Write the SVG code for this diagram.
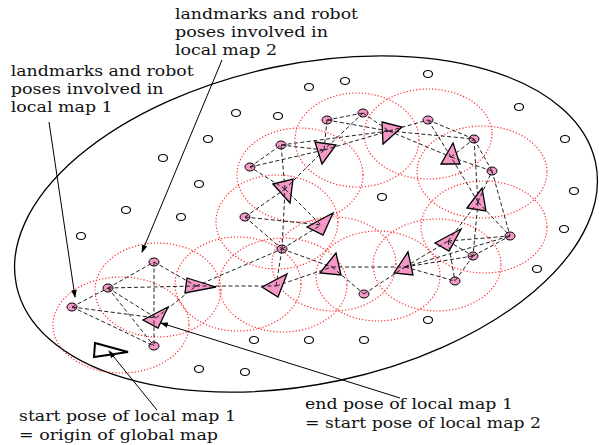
<svg xmlns="http://www.w3.org/2000/svg" width="599" height="445" viewBox="0 0 599 445">
<defs>
<marker id="ah" markerWidth="8" markerHeight="8" refX="7" refY="4" orient="auto" markerUnits="userSpaceOnUse"><path d="M0,1.2 L8,4 L0,6.8 z" fill="#000"/></marker>
</defs>
<style>
.lbl{font-family:"DejaVu Serif","Liberation Serif",serif;font-size:15px;fill:#111}
.open{fill:#fff;stroke:#000;stroke-width:1.2}
.lm{fill:#f598c8;stroke:#000;stroke-width:1}
.pose{fill:#f598c8;stroke:#000;stroke-width:1.3}
.start{fill:#fff;stroke:#000;stroke-width:2}
.rng{fill:none;stroke:#ff2a2a;stroke-width:1.2;stroke-dasharray:1.2 2}
.cn line{stroke:#222;stroke-width:1;stroke-dasharray:4 2.5}
.ann{stroke:#000;stroke-width:1;fill:none}
</style>
<rect width="599" height="445" fill="#fff"/>
<ellipse id="global-map" cx="306" cy="224" rx="296" ry="160" transform="rotate(-12 306 224)" fill="none" stroke="#000" stroke-width="1.3"/>
<g id="ranges">
<ellipse class="rng" cx="121" cy="325" rx="68" ry="48"/>
<ellipse class="rng" cx="158" cy="290" rx="63" ry="47"/>
<ellipse class="rng" cx="238" cy="284" rx="63" ry="47"/>
<ellipse class="rng" cx="283" cy="285" rx="64" ry="47"/>
<ellipse class="rng" cx="334" cy="264" rx="62" ry="47"/>
<ellipse class="rng" cx="378" cy="276" rx="62" ry="45"/>
<ellipse class="rng" cx="437" cy="265" rx="64" ry="46"/>
<ellipse class="rng" cx="484" cy="227" rx="63" ry="46"/>
<ellipse class="rng" cx="482" cy="172" rx="65" ry="46"/>
<ellipse class="rng" cx="428" cy="134" rx="64" ry="45"/>
<ellipse class="rng" cx="357" cy="140" rx="62" ry="47"/>
<ellipse class="rng" cx="300" cy="175" rx="63" ry="47"/>
<ellipse class="rng" cx="277" cy="222" rx="61" ry="47"/>
</g>
<g id="unobserved">
<ellipse class="open" cx="236" cy="113" rx="4.5" ry="3.5"/>
<ellipse class="open" cx="278" cy="116" rx="4.5" ry="3.5"/>
<ellipse class="open" cx="208" cy="139" rx="4.5" ry="3.5"/>
<ellipse class="open" cx="163" cy="158" rx="4.5" ry="3.5"/>
<ellipse class="open" cx="199" cy="184" rx="4.5" ry="3.5"/>
<ellipse class="open" cx="126" cy="210" rx="4.5" ry="3.5"/>
<ellipse class="open" cx="181" cy="217" rx="4.5" ry="3.5"/>
<ellipse class="open" cx="81" cy="236" rx="4.5" ry="3.5"/>
<ellipse class="open" cx="309" cy="87" rx="4.5" ry="3.5"/>
<ellipse class="open" cx="345" cy="81" rx="4.5" ry="3.5"/>
<ellipse class="open" cx="428" cy="74" rx="4.5" ry="3.5"/>
<ellipse class="open" cx="519" cy="107" rx="4.5" ry="3.5"/>
<ellipse class="open" cx="565" cy="139" rx="4.5" ry="3.5"/>
<ellipse class="open" cx="574" cy="191" rx="4.5" ry="3.5"/>
<ellipse class="open" cx="564" cy="229" rx="4.5" ry="3.5"/>
<ellipse class="open" cx="537" cy="269" rx="4.5" ry="3.5"/>
<ellipse class="open" cx="428" cy="320" rx="4.5" ry="3.5"/>
<ellipse class="open" cx="254" cy="340" rx="4.5" ry="3.5"/>
<ellipse class="open" cx="309" cy="340" rx="4.5" ry="3.5"/>
<ellipse class="open" cx="364" cy="340" rx="4.5" ry="3.5"/>
<ellipse class="open" cx="199" cy="369" rx="4.5" ry="3.5"/>
<ellipse class="open" cx="245" cy="372" rx="4.5" ry="3.5"/>
<ellipse class="open" cx="382" cy="197" rx="4.5" ry="3.5"/>
</g>
<g id="LA"><ellipse class="lm" cx="154" cy="262" rx="5" ry="4"/></g>
<g id="LB"><ellipse class="lm" cx="108" cy="288" rx="5" ry="4"/></g>
<g id="LC"><ellipse class="lm" cx="72" cy="307" rx="5" ry="4"/></g>
<g id="LD"><ellipse class="lm" cx="154" cy="346" rx="5" ry="4"/></g>
<g id="LE"><ellipse class="lm" cx="327" cy="120" rx="5" ry="4"/></g>
<g id="LF"><ellipse class="lm" cx="363" cy="113" rx="5" ry="4"/></g>
<g id="LG"><ellipse class="lm" cx="281" cy="145" rx="5" ry="4"/></g>
<g id="LH"><ellipse class="lm" cx="250" cy="167" rx="5" ry="4"/></g>
<g id="LI"><ellipse class="lm" cx="245" cy="217" rx="5" ry="4"/></g>
<g id="LJ"><ellipse class="lm" cx="282" cy="249" rx="5" ry="4"/></g>
<g id="LK"><ellipse class="lm" cx="428" cy="120" rx="5" ry="4"/></g>
<g id="LL"><ellipse class="lm" cx="474" cy="139" rx="5" ry="4"/></g>
<g id="LM"><ellipse class="lm" cx="492" cy="171" rx="5" ry="4"/></g>
<g id="LN"><ellipse class="lm" cx="510" cy="236" rx="5" ry="4"/></g>
<g id="LO"><ellipse class="lm" cx="473" cy="256" rx="5" ry="4"/></g>
<g id="LP"><ellipse class="lm" cx="455" cy="281" rx="5" ry="4"/></g>
<g id="LQ"><ellipse class="lm" cx="364" cy="294" rx="5" ry="4"/></g>
<g id="T1"><polygon class="start" points="95,343 128,352 94,357"/></g>
<g id="T2"><polygon class="pose" points="168,307 143,320 158,328"/></g>
<g id="T3"><polygon class="pose" points="187,278 216,287 185,293"/></g>
<g id="T4"><polygon class="pose" points="262,287 287,274 278,297"/></g>
<g id="T5"><polygon class="pose" points="320,273 336,253 341,275"/></g>
<g id="T6"><polygon class="pose" points="394,273 408,252 413,275"/></g>
<g id="T7"><polygon class="pose" points="435,243 461,229 449,251"/></g>
<g id="T8"><polygon class="pose" points="467,208 482,188 486,211"/></g>
<g id="T9"><polygon class="pose" points="441,164 453,143 460,164"/></g>
<g id="T10"><polygon class="pose" points="382,122 402,127 383,144"/></g>
<g id="T11"><polygon class="pose" points="315,142 336,145 322,164"/></g>
<g id="T12"><polygon class="pose" points="273,184 293,179 290,203"/></g>
<g id="T13"><polygon class="pose" points="307,227 333,213 323,235"/></g>
<g id="connectors" class="cn">
<line x1="72" y1="307" x2="108" y2="288"/>
<line x1="72" y1="307" x2="156" y2="318"/>
<line x1="72" y1="307" x2="154" y2="346"/>
<line x1="108" y1="288" x2="154" y2="262"/>
<line x1="108" y1="288" x2="196" y2="286"/>
<line x1="108" y1="288" x2="156" y2="318"/>
<line x1="108" y1="288" x2="154" y2="346"/>
<line x1="154" y1="262" x2="196" y2="286"/>
<line x1="154" y1="262" x2="154" y2="346"/>
<line x1="156" y1="318" x2="196" y2="286"/>
<line x1="196" y1="286" x2="276" y2="286"/>
<line x1="196" y1="286" x2="282" y2="249"/>
<line x1="276" y1="286" x2="282" y2="249"/>
<line x1="276" y1="286" x2="332" y2="267"/>
<line x1="282" y1="249" x2="332" y2="267"/>
<line x1="282" y1="249" x2="321" y2="225"/>
<line x1="282" y1="249" x2="285" y2="189"/>
<line x1="245" y1="217" x2="282" y2="249"/>
<line x1="245" y1="217" x2="321" y2="225"/>
<line x1="245" y1="217" x2="285" y2="189"/>
<line x1="285" y1="189" x2="321" y2="225"/>
<line x1="285" y1="189" x2="250" y2="167"/>
<line x1="285" y1="189" x2="281" y2="145"/>
<line x1="250" y1="167" x2="281" y2="145"/>
<line x1="250" y1="167" x2="324" y2="150"/>
<line x1="281" y1="145" x2="324" y2="150"/>
<line x1="281" y1="145" x2="389" y2="131"/>
<line x1="327" y1="120" x2="363" y2="113"/>
<line x1="327" y1="120" x2="389" y2="131"/>
<line x1="327" y1="120" x2="324" y2="150"/>
<line x1="363" y1="113" x2="389" y2="131"/>
<line x1="363" y1="113" x2="324" y2="150"/>
<line x1="324" y1="150" x2="285" y2="189"/>
<line x1="324" y1="150" x2="389" y2="131"/>
<line x1="332" y1="267" x2="405" y2="267"/>
<line x1="332" y1="267" x2="364" y2="294"/>
<line x1="364" y1="294" x2="405" y2="267"/>
<line x1="405" y1="267" x2="448" y2="241"/>
<line x1="405" y1="267" x2="455" y2="281"/>
<line x1="405" y1="267" x2="473" y2="256"/>
<line x1="405" y1="267" x2="510" y2="236"/>
<line x1="448" y1="241" x2="473" y2="256"/>
<line x1="448" y1="241" x2="455" y2="281"/>
<line x1="473" y1="256" x2="455" y2="281"/>
<line x1="448" y1="241" x2="510" y2="236"/>
<line x1="473" y1="256" x2="510" y2="236"/>
<line x1="448" y1="241" x2="478" y2="202"/>
<line x1="478" y1="202" x2="510" y2="236"/>
<line x1="478" y1="202" x2="473" y2="256"/>
<line x1="492" y1="171" x2="510" y2="236"/>
<line x1="478" y1="202" x2="492" y2="171"/>
<line x1="478" y1="202" x2="474" y2="139"/>
<line x1="478" y1="202" x2="451" y2="157"/>
<line x1="451" y1="157" x2="492" y2="171"/>
<line x1="451" y1="157" x2="474" y2="139"/>
<line x1="451" y1="157" x2="428" y2="120"/>
<line x1="428" y1="120" x2="474" y2="139"/>
<line x1="474" y1="139" x2="492" y2="171"/>
<line x1="389" y1="131" x2="428" y2="120"/>
<line x1="389" y1="131" x2="474" y2="139"/>
<line x1="389" y1="131" x2="451" y2="157"/>
</g>
<g id="annotations">
<line class="ann" x1="49" y1="122" x2="75" y2="297" marker-end="url(#ah)"/>
<line class="ann" x1="222" y1="60" x2="142" y2="252" marker-end="url(#ah)"/>
<line class="ann" x1="400" y1="398" x2="161" y2="323" marker-end="url(#ah)"/>
<line class="ann" x1="157" y1="410" x2="109" y2="351" marker-end="url(#ah)"/>
</g>
<g id="labels" class="lbl">
<text x="175" y="18.5" textLength="183" lengthAdjust="spacingAndGlyphs">landmarks and robot</text>
<text x="175" y="36.5" textLength="153" lengthAdjust="spacingAndGlyphs">poses involved in</text>
<text x="175" y="54.5" textLength="102" lengthAdjust="spacingAndGlyphs">local map 2</text>
<text x="10.7" y="76" textLength="183" lengthAdjust="spacingAndGlyphs">landmarks and robot</text>
<text x="10.7" y="94" textLength="153" lengthAdjust="spacingAndGlyphs">poses involved in</text>
<text x="10.7" y="112" textLength="102" lengthAdjust="spacingAndGlyphs">local map 1</text>
<text x="19" y="421" textLength="217" lengthAdjust="spacingAndGlyphs">start pose of local map 1</text>
<text x="19" y="440" textLength="199" lengthAdjust="spacingAndGlyphs">= origin of global map</text>
<text x="305" y="409" textLength="208" lengthAdjust="spacingAndGlyphs">end pose of local map 1</text>
<text x="305" y="428" textLength="236" lengthAdjust="spacingAndGlyphs">= start pose of local map 2</text>
</g>
</svg>
